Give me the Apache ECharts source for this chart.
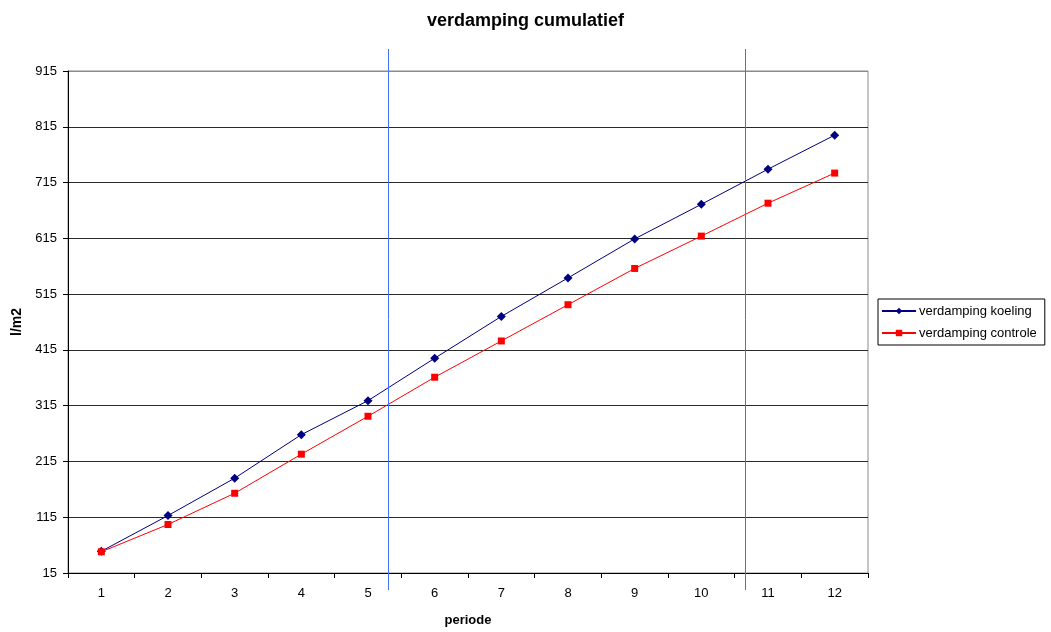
<!DOCTYPE html>
<html>
<head>
<meta charset="utf-8">
<script src="https://cdn.jsdelivr.net/npm/echarts@6/dist/echarts.min.js"></script>
<style>
  html, body { margin: 0; padding: 0; background: #fff; }
  #chart { width: 1051px; height: 632px; }
</style>
</head>
<body>
<div id="chart"></div>
<script>
// Periods on the x axis
const periods = ['1', '2', '3', '4', '5', '6', '7', '8', '9', '10', '11', '12'];
// Cumulative evaporation (l/m2) per period
const koeling  = [54, 118, 185, 263, 324, 400, 475, 544, 614, 676, 739, 800];
const controle = [53, 102, 158, 228, 296, 366, 431, 496, 561, 619, 678, 732];
// Positions (in period units) of the two vertical divider lines
const dividers = [5.3, 10.65];
// Y axis range and step
const yMin = 15, yMax = 915, yStep = 100;

const FONT = 'Liberation Sans, Arial, sans-serif';
const chart = echarts.init(document.getElementById('chart'), null, { renderer: 'canvas' });

const gridColors = [];
for (let v = yMin; v <= yMax; v += yStep) gridColors.push(v === yMax ? '#8a8a8a' : '#2a2a2a');

chart.setOption({
  animation: false,
  backgroundColor: '#ffffff',
  title: {
    text: 'verdamping cumulatief',
    left: 'center',
    top: 7,
    textStyle: { fontFamily: FONT, fontSize: 18, fontWeight: 'bold', color: '#000' }
  },
  legend: {
    orient: 'vertical',
    left: 878,
    top: 299,
    width: 160,
    padding: [5, 8, 5, 3],
    borderColor: '#000',
    borderWidth: 1,
    itemWidth: 34,
    itemHeight: 8,
    itemGap: 8,
    textStyle: { fontFamily: FONT, fontSize: 13, color: '#000', lineHeight: 14, padding: [0, 0, 0, -2] },
    data: ['verdamping koeling', 'verdamping controle']
  },
  grid: {
    left: 68, right: 183, top: 71, bottom: 59,
    outerBoundsMode: 'none',
    show: true,
    borderColor: '#8a8a8a',
    borderWidth: 1,
    containLabel: false
  },
  xAxis: [{
    type: 'category',
    data: periods,
    boundaryGap: true,
    name: 'periode',
    nameLocation: 'middle',
    nameGap: 41,
    nameTextStyle: { fontFamily: FONT, fontSize: 13, fontWeight: 'bold', color: '#000' },
    axisLine: { lineStyle: { color: '#000', width: 1 } },
    axisTick: { show: true, inside: false, length: 5, alignWithLabel: false, lineStyle: { color: '#000' } },
    axisLabel: { fontFamily: FONT, fontSize: 13, color: '#000', margin: 14 },
    splitLine: { show: false }
  }, {
    // helper axis in period units for placing the divider lines
    type: 'value',
    min: 0.5,
    max: 12.5,
    show: false
  }],
  yAxis: {
    type: 'value',
    min: yMin,
    max: yMax,
    interval: yStep,
    name: 'l/m2',
    nameLocation: 'middle',
    nameGap: 42,
    nameRotate: 90,
    nameTextStyle: { fontFamily: FONT, fontSize: 14, fontWeight: 'bold', color: '#000' },
    axisLine: { show: true, lineStyle: { color: '#000', width: 1 } },
    axisTick: { show: true, length: 5, lineStyle: { color: '#000' } },
    axisLabel: { fontFamily: FONT, fontSize: 13, color: '#000', margin: 11 },
    splitLine: { show: true, lineStyle: { color: gridColors, width: 1 } }
  },
  series: [{
    name: 'verdamping koeling',
    type: 'line',
    xAxisIndex: 0,
    data: koeling,
    symbol: 'diamond',
    symbolSize: 9,
    color: '#000080',
    itemStyle: { color: '#000080' },
    lineStyle: { color: '#000080', width: 1 },
    z: 3
  }, {
    name: 'verdamping controle',
    type: 'line',
    xAxisIndex: 0,
    data: controle,
    symbol: 'rect',
    symbolSize: 7,
    color: '#ff0000',
    itemStyle: { color: '#ff0000' },
    lineStyle: { color: '#ff0000', width: 1 },
    z: 4
  }]
});

// Vertical divider lines, placed through the helper axis; they run a bit past the plot area
function drawDividers() {
  const top = chart.convertToPixel({ yAxisIndex: 0 }, yMax) - 22;
  const bottom = chart.convertToPixel({ yAxisIndex: 0 }, yMin) + 17;
  const elements = dividers.map(function (p) {
    const x = Math.round(chart.convertToPixel({ xAxisIndex: 1 }, p)) + 0.5;
    return {
      type: 'line',
      shape: { x1: x, y1: top, x2: x, y2: bottom },
      style: { stroke: '#3f6fff', lineWidth: 1 },
      z: 10
    };
  });
  chart.setOption({ graphic: elements });
}
drawDividers();
</script>
</body>
</html>
